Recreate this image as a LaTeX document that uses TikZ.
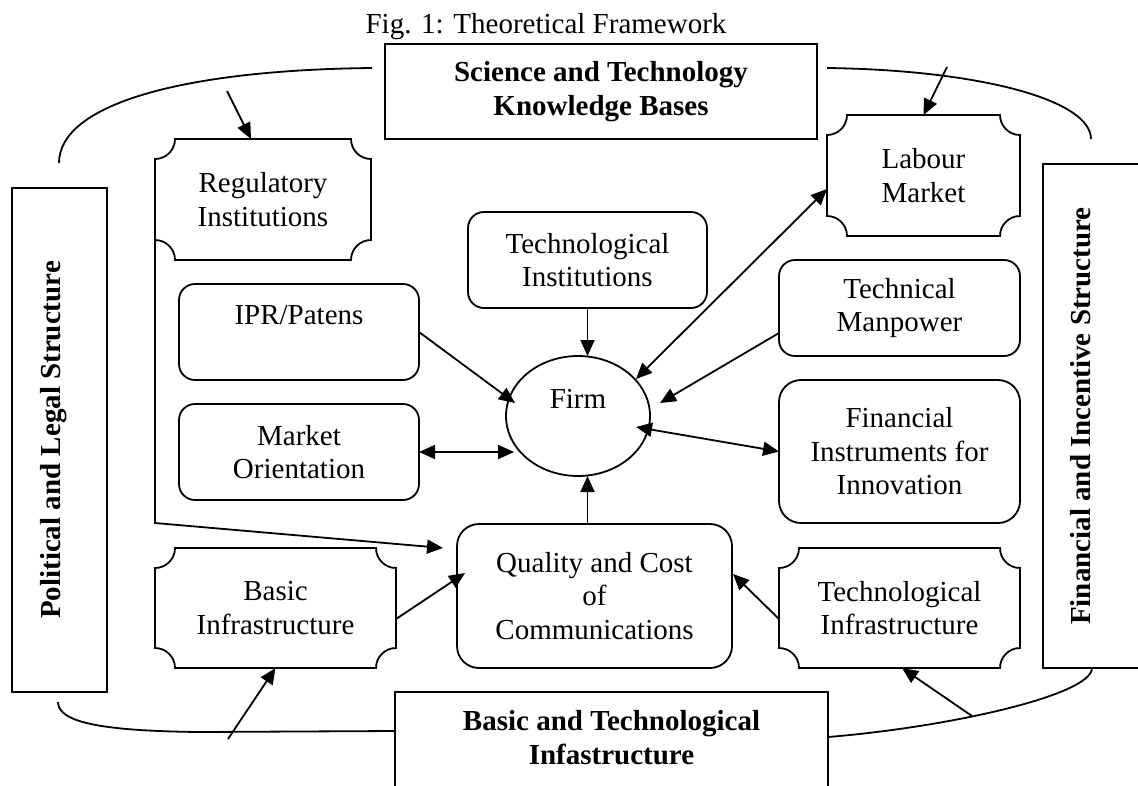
\documentclass[tikz,border=0pt]{standalone}
\usepackage{fontspec}
\setmainfont{Liberation Serif}
\usetikzlibrary{arrows.meta,shapes.geometric,calc}

% Outline of a "plaque" box: rectangle with concave quarter-circle corners
\newcommand\plaqueoutline[1]{%
  \draw[frame] ($(#1.north west)+(20pt,0pt)$) -- ($(#1.north east)+(-20pt,0pt)$)
    arc[start angle=180,end angle=90,radius=20pt]
    -- ($(#1.south east)+(0pt,-20pt)$)
    arc[start angle=270,end angle=180,radius=20pt]
    -- ($(#1.south west)+(20pt,0pt)$)
    arc[start angle=0,end angle=-90,radius=20pt]
    -- ($(#1.north west)+(0pt,20pt)$)
    arc[start angle=90,end angle=0,radius=20pt] -- cycle;}

\begin{document}
\begin{tikzpicture}[x=1pt,y=1pt,yscale=-1,
  lbl/.style={font=\fontsize{29}{33.5}\selectfont, align=center},
  boldlbl/.style={font=\fontsize{29}{33.5}\selectfont\bfseries, align=center},
  frame/.style={line width=1.8pt},
  sbox/.style={draw, frame, inner sep=0pt, outer sep=0pt},
  rbox/.style={lbl, draw, frame, rounded corners=16pt, inner sep=0pt, outer sep=0pt},
  plaque/.style={lbl, inner sep=0pt, outer sep=0pt},
  arr/.style={frame, -{Triangle[length=16pt,width=14pt]}},
  darr/.style={frame, {Triangle[length=16pt,width=14pt]}-{Triangle[length=16pt,width=14pt]}}
]
\path[use as bounding box, fill=white] (0,0) rectangle (1138,785);

% title
\node[lbl, anchor=base] (title) at (546,33) {Fig. 1: Theoretical Framework};

% surrounding structures
\node[sbox, boldlbl, minimum width=432pt, minimum height=95pt] (science) at (601,91.5)
  {Science and Technology\\Knowledge Bases};
\node[sbox, minimum width=504pt, minimum height=95pt, rotate=90] (political) at (59.5,440) {};
\node[boldlbl, rotate=90, anchor=base] (politicaltext) at (60,440) {Political and Legal Structure};
\node[sbox, minimum width=504pt, minimum height=117pt, rotate=90] (financial) at (1101.5,416) {};
\node[boldlbl, rotate=90, anchor=base] (financialtext) at (1090,416) {Financial and Incentive Structure};
\node[sbox, minimum width=433pt, minimum height=108pt] (infra) at (611.5,746) {};
\node[boldlbl] (infratext) at (611.5,737.5) {Basic and Technological\\Infastructure};

% plaque boxes
\node[plaque, minimum width=216pt, minimum height=121pt] (reg) at (263,199.5) {Regulatory\\Institutions};
\node[plaque, minimum width=193pt, minimum height=121pt] (labour) at (923.5,175.5) {Labour\\Market};
\node[plaque, minimum width=241pt, minimum height=120pt] (basicinfra) at (275.5,608) {Basic\\Infrastructure};
\node[plaque, minimum width=241pt, minimum height=120pt] (techinfra) at (899.5,608) {Technological\\Infrastructure};
\plaqueoutline{reg}
\plaqueoutline{labour}
\plaqueoutline{basicinfra}
\plaqueoutline{techinfra}

% rounded boxes
\node[rbox, minimum width=239pt, minimum height=96pt] (techinst) at (587.5,260) {Technological\\Institutions};
\node[rbox, minimum width=240pt, minimum height=96pt] (ipr) at (299,332) {IPR/Patens\\\mbox{}};
\node[rbox, minimum width=240pt, minimum height=96pt] (market) at (299,452) {Market\\Orientation};
\node[rbox, minimum width=241pt, minimum height=96pt] (manpower) at (899.5,308) {Technical\\Manpower};
\node[rbox, rounded corners=22pt, minimum width=241pt, minimum height=143pt] (fininst) at (899.5,451.5)
  {Financial\\Instruments for\\Innovation};
\node[rbox, rounded corners=22pt, minimum width=275pt, minimum height=144pt] (quality) at (594.5,596)
  {Quality and Cost\\of\\Communications};

% the firm
\node[lbl, draw, frame, ellipse, inner sep=0pt, outer sep=0pt, minimum width=144pt, minimum height=120pt]
  (firm) at (578,416) {Firm\\\mbox{}};

% curved brackets between the structures
\coordinate (tl1) at (59,163);  \coordinate (tl2) at (372,68);
\coordinate (tr1) at (827,68);  \coordinate (tr2) at (1091,139);
\coordinate (bl1) at (58,702);  \coordinate (bl2) at (200,732); \coordinate (bl3) at (395,731);
\coordinate (br1) at (828,737); \coordinate (br2) at (1092,668);
\draw[frame] (tl1) .. controls (59,105) and (180,70) .. (tl2);
\draw[frame] (tr1) .. controls (980,70) and (1091,100) .. (tr2);
\draw[frame] (bl1) .. controls (58,722) and (100,731) .. (bl2) -- (bl3);
\draw[frame] (br1) .. controls (950,727) and (1092,695) .. (br2);

% arrows from the brackets
\coordinate (sciA) at (227,91);
\coordinate (sciB) at (947,67);
\coordinate (infA) at (228,739);
\coordinate (infB) at (972,716);
\draw[arr] (sciA) -- ($(reg.north)+(-12,0)$);
\draw[arr] (sciB) -- (labour.north);
\draw[arr] (infA) -- (basicinfra.south);
\draw[arr] (infB) -- ($(techinfra.south)+(2.5,0)$);

% regulation feeding communications
\draw[arr] ($(reg.south west)+(0,-20)$) -- ($(reg.south west)+(0,263)$) -- ($(quality.north west)+(-14,24)$);

% infrastructure to communications
\draw[arr] ($(basicinfra.east)+(0,11)$) -- ($(quality.west)+(8,-23)$);
\draw[arr] ($(techinfra.west)+(0,11)$) -- ($(quality.east)+(1,-22)$);

% links to the firm
\draw[arr] (techinst.south) -- (techinst.south |- firm.north);
\draw[arr] (techinst.south |- quality.north) -- (techinst.south |- firm.south);
\draw[arr] (ipr.east) -- ($(firm.center)+(-63,-13)$);
\draw[darr] (market.east) -- ($(firm.center)+(-64,36)$);
\draw[darr] ($(firm.center)+(58,-37)$) -- ($(labour.west)+(0,13.5)$);
\draw[arr] ($(manpower.west)+(0,25)$) -- ($(firm.center)+(82,-13)$);
\draw[darr] ($(firm.center)+(58,11)$) -- (fininst.west);
\end{tikzpicture}
\end{document}
